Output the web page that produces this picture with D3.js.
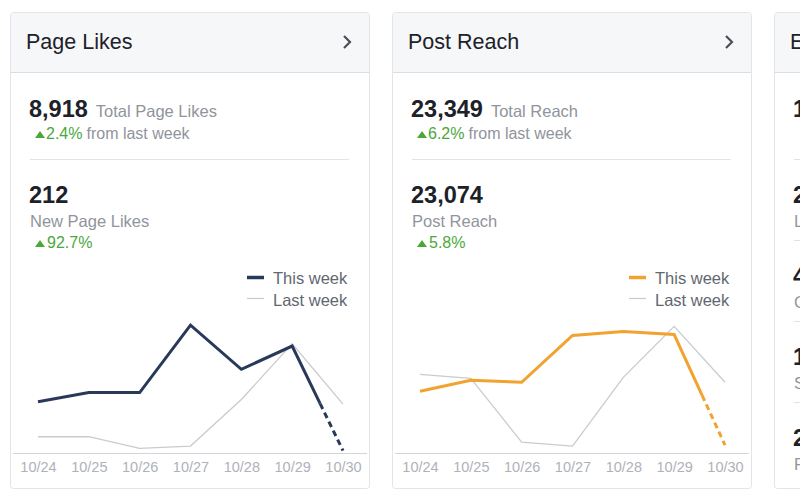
<!DOCTYPE html>
<html>
<head>
<meta charset="utf-8">
<script src="https://cdn.jsdelivr.net/npm/d3@7"></script>
<style>
  html, body { margin: 0; padding: 0; background: #ffffff; }
  svg { display: block; font-family: "Liberation Sans", Arial, Helvetica, sans-serif; }
</style>
</head>
<body>
<svg id="chart" width="800" height="500"></svg>
<script>
// ---- Data ----
const dates = ["10/24", "10/25", "10/26", "10/27", "10/28", "10/29", "10/30"];

const likesThisWeek = [22, 26, 26, 55, 36, 46, 1];
const likesLastWeek = [7, 7, 2, 3, 23, 47, 21];

const reachThisWeek = [2500, 2940, 2860, 4750, 4910, 4790, 320];
const reachLastWeek = [3180, 3020, 440, 280, 3060, 5120, 2860];

const cardTitles = ["Page Likes", "Post Reach", "Engagement"];
const totalValues = ["8,918", "23,349"];
const totalLabels = ["Total Page Likes", "Total Reach"];
const totalChanges = ["2.4%", "6.2%"];
const weekValues = ["212", "23,074"];
const weekLabels = ["New Page Likes", "Post Reach"];
const weekChanges = ["92.7%", "5.8%"];
const legendLabels = ["This week", "Last week"];
const yMaxes = [60, 5640];

const engagementValues = ["1,046", "282", "46", "14", "218"];
const engagementLabels = ["Post Engagement", "Likes", "Comments", "Shares", "Post Clicks"];

// ---- Style ----
const C = {
  title: "#1d2129",
  num: "#1d2129",
  gray: "#90949c",
  green: "#4aa83a",
  legend: "#616770",
  tick: "#aeb2b9",
  navy: "#283959",
  orange: "#f2a22e",
  last: "#c9cbcf",
  header: "#f6f7f9",
  border: "#e3e4e8",
  sep: "#e2e3e6",
  axis: "#d3d5d9"
};

const svg = d3.select("#chart");
const cardW = 359, cardTop = 12, cardBottom = 488, headerBottom = 72;
const cardXs = [10, 392, 774];

function drawCard(x, title) {
  const g = svg.append("g").attr("transform", `translate(${x},0)`);
  g.append("rect").attr("x", 0.5).attr("y", cardTop + 0.5)
    .attr("width", cardW).attr("height", cardBottom - cardTop)
    .attr("rx", 3).attr("fill", "#fff").attr("stroke", C.border);
  g.append("path")
    .attr("d", `M1,${headerBottom} L1,${cardTop + 4} Q1,${cardTop + 1} 4,${cardTop + 1} L${cardW - 3},${cardTop + 1} Q${cardW},${cardTop + 1} ${cardW},${cardTop + 4} L${cardW},${headerBottom} Z`)
    .attr("fill", C.header);
  g.append("line").attr("x1", 1).attr("x2", cardW).attr("y1", headerBottom + 0.5).attr("y2", headerBottom + 0.5)
    .attr("stroke", "#dcdee2");
  g.append("text").attr("x", 16).attr("y", 49).attr("font-size", 21.5).attr("fill", C.title).text(title);
  g.append("path").attr("d", "M334,36 L340,42 L334,48").attr("fill", "none")
    .attr("stroke", "#4b4f56").attr("stroke-width", 2.2);
  return g;
}

function triangle(g, x, yBase) {
  g.append("path").attr("d", `M${x},${yBase} L${x + 10},${yBase} L${x + 5},${yBase - 7} Z`).attr("fill", C.green);
}

function drawMetricCard(i, thisWeek, lastWeek, color) {
  const g = drawCard(cardXs[i], cardTitles[i]);

  // total
  const t1 = g.append("text").attr("x", 19).attr("y", 117).attr("font-size", 23.5)
    .attr("font-weight", "bold").attr("fill", C.num).text(totalValues[i]);
  const w1 = t1.node().getComputedTextLength();
  g.append("text").attr("x", 19 + w1 + 8).attr("y", 117).attr("font-size", 16.5)
    .attr("fill", C.gray).text(totalLabels[i]);
  triangle(g, 25, 138);
  const c1 = g.append("text").attr("x", 36).attr("y", 139).attr("font-size", 16).attr("fill", C.green).text(totalChanges[i]);
  const cw1 = c1.node().getComputedTextLength();
  g.append("text").attr("x", 36 + cw1 + 4).attr("y", 139).attr("font-size", 16).attr("fill", C.gray).text("from last week");

  g.append("line").attr("x1", 20).attr("x2", 339).attr("y1", 159.5).attr("y2", 159.5).attr("stroke", C.sep);

  // week
  g.append("text").attr("x", 19).attr("y", 203).attr("font-size", 23.5)
    .attr("font-weight", "bold").attr("fill", C.num).text(weekValues[i]);
  g.append("text").attr("x", 20).attr("y", 227).attr("font-size", 16.5)
    .attr("fill", C.gray).text(weekLabels[i]);
  triangle(g, 25, 247);
  g.append("text").attr("x", 37).attr("y", 248).attr("font-size", 16).attr("fill", C.green).text(weekChanges[i]);

  // legend
  g.append("line").attr("x1", 237).attr("x2", 254).attr("y1", 277.5).attr("y2", 277.5)
    .attr("stroke", color).attr("stroke-width", 3.5);
  g.append("text").attr("x", 263).attr("y", 284).attr("font-size", 16.5).attr("fill", C.legend).text(legendLabels[0]);
  g.append("line").attr("x1", 237).attr("x2", 254).attr("y1", 298.5).attr("y2", 298.5)
    .attr("stroke", C.last).attr("stroke-width", 1.2);
  g.append("text").attr("x", 263).attr("y", 306).attr("font-size", 16.5).attr("fill", C.legend).text(legendLabels[1]);

  // chart
  const x = d3.scalePoint().domain(dates).range([28, 333]);
  const y = d3.scaleLinear().domain([0, yMaxes[i]]).range([453, 313.5]);

  g.append("line").attr("x1", 3).attr("x2", 357).attr("y1", 453.5).attr("y2", 453.5)
    .attr("stroke", C.axis).attr("stroke-width", 1.2);

  const axis = g.append("g").attr("transform", "translate(0,453)")
    .call(d3.axisBottom(x).tickSize(0).tickPadding(9));
  axis.select(".domain").remove();
  axis.selectAll("text").attr("font-size", 14.5).attr("fill", C.tick)
    .attr("font-family", "'Liberation Sans', Arial, sans-serif");

  const line = d3.line().x(d => x(d[0])).y(d => y(d[1]));

  g.append("path").datum(dates.map((d, k) => [d, lastWeek[k]]))
    .attr("d", line).attr("fill", "none").attr("stroke", C.last).attr("stroke-width", 1.3);

  const n = dates.length;
  const solidPts = dates.slice(0, n - 1).map((d, k) => [x(d), y(thisWeek[k])]);
  const pA = solidPts[solidPts.length - 1];
  const pB = [x(dates[n - 1]), y(thisWeek[n - 1])];
  const f = 0.55;
  const mid = [pA[0] + (pB[0] - pA[0]) * f, pA[1] + (pB[1] - pA[1]) * f];
  const rawLine = d3.line();
  g.append("path").attr("d", rawLine(solidPts.concat([mid])))
    .attr("fill", "none").attr("stroke", color).attr("stroke-width", 3)
    .attr("stroke-linejoin", "miter");
  g.append("path").attr("d", rawLine([mid, pB]))
    .attr("fill", "none").attr("stroke", color).attr("stroke-width", 3)
    .attr("stroke-dasharray", "6,4");
}

drawMetricCard(0, likesThisWeek, likesLastWeek, C.navy);
drawMetricCard(1, reachThisWeek, reachLastWeek, C.orange);

// partial third card (cut off by the right edge, as in the reference)
const g3 = drawCard(cardXs[2], cardTitles[2]);
g3.append("text").attr("x", 19).attr("y", 117).attr("font-size", 23.5).attr("font-weight", "bold")
  .attr("fill", C.num).text(engagementValues[0]);
engagementValues.slice(1).forEach((v, k) => {
  const yb = 203 + 81 * k;
  g3.append("line").attr("x1", 20).attr("x2", 339).attr("y1", 159.5 + 81 * k).attr("y2", 159.5 + 81 * k).attr("stroke", C.sep);
  g3.append("text").attr("x", 19).attr("y", yb).attr("font-size", 23.5).attr("font-weight", "bold")
    .attr("fill", C.num).text(v);
  g3.append("text").attr("x", 20).attr("y", yb + 24).attr("font-size", 16.5)
    .attr("fill", C.gray).text(engagementLabels[k + 1]);
});
</script>
</body>
</html>
